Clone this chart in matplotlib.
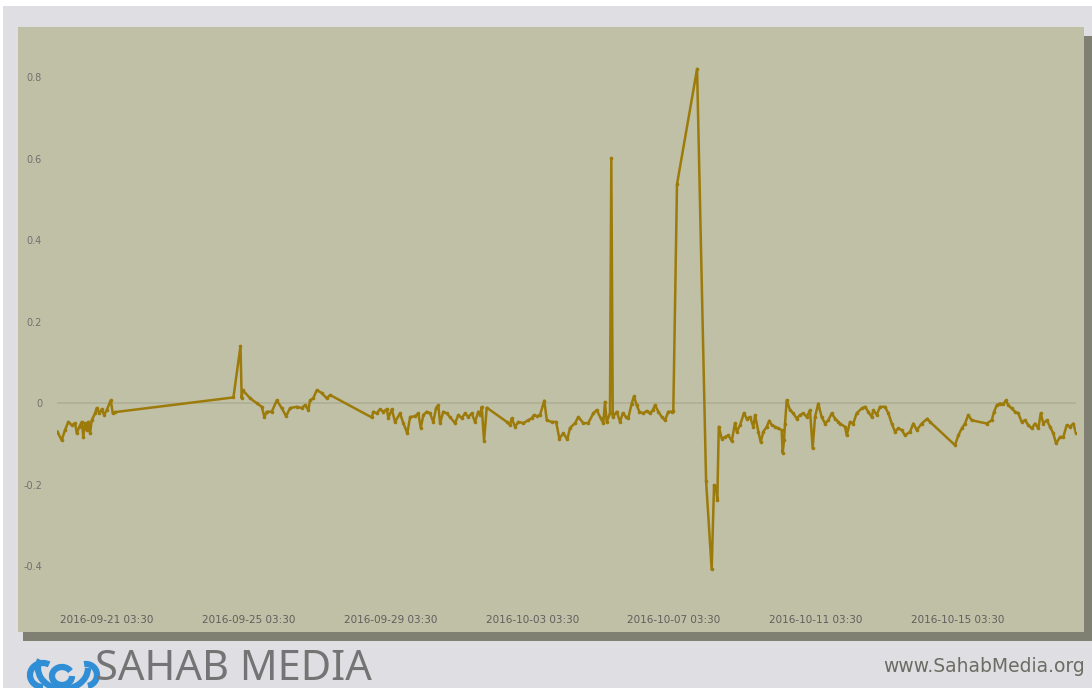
import matplotlib
matplotlib.use("Agg")
import matplotlib.pyplot as plt
import matplotlib.dates as mdates
from matplotlib.patches import Rectangle, Arc
import pandas as pd

# ---- data: hours relative to 2016-09-21 03:30, and values ----
base_time = "2016-09-21 03:30"
hours = [-33.7, -30.7, -28.5, -26.2, -23.9, -21.7, -20.5, -18.8, -17.1, -16.1,
         -14.9, -13.8, -12.7, -11.5, -10.4, -8.1, -7.0, -5.2, -3.6, -2.0,
         -0.2, 2.5, 3.9, 5.4, 85.6, 90.4, 91.2, 91.9, 96.9, 101.4,
         104.8, 106.6, 108.2, 111.6, 115.0, 118.3, 121.3, 124.0, 128.5, 131.9,
         134.1, 136.4, 137.5, 139.7, 142.1, 145.4, 148.8, 151.1, 179.3, 180.4,
         182.7, 184.9, 187.2, 189.5, 190.6, 192.9, 195.1, 198.5, 200.7, 203.4,
         205.3, 208.6, 210.9, 212.5, 214.3, 216.6, 218.8, 221.0, 222.9, 224.4,
         225.6, 227.8, 230.1, 232.3, 235.7, 238.0, 240.3, 242.5, 244.7, 247.0,
         249.3, 251.5, 252.7, 253.8, 255.4, 257.2, 270.8, 273.0, 274.1, 276.4,
         278.6, 282.0, 285.4, 287.7, 289.2, 291.1, 293.3, 296.2, 297.9, 301.2,
         304.2, 306.4, 309.1, 311.8, 313.6, 317.0, 319.3, 322.6, 326.0, 329.4,
         331.7, 334.4, 336.2, 337.3, 338.5, 340.7, 341.6, 342.6, 345.3, 347.5,
         349.3, 351.6, 353.1, 355.4, 357.0, 358.8, 360.6, 363.3, 365.6, 367.8,
         369.7, 371.2, 373.5, 375.8, 378.0, 380.2, 382.5, 383.6, 386.1, 399.7,
         405.8, 409.6, 411.2, 411.9, 412.5, 413.4, 414.4, 416.4, 418.6, 420.9,
         423.2, 425.4, 426.6, 428.8, 431.5, 433.3, 435.6, 437.8, 439.0, 441.2,
         442.8, 444.6, 446.9, 448.6, 450.3, 452.5, 454.7, 457.0, 457.7, 458.6,
         459.3, 460.4, 462.7, 464.9, 467.2, 469.4, 471.7, 474.0, 476.2, 478.0,
         479.6, 481.8, 484.1, 486.4, 488.6, 490.9, 493.2, 495.4, 496.5, 499.9,
         501.1, 503.3, 505.5, 507.8, 511.2, 513.5, 515.7, 518.0, 519.1, 521.4,
         523.6, 527.0, 529.3, 531.6, 533.8, 536.0, 538.3, 540.6, 544.0, 546.2,
         548.5, 551.9, 555.7, 557.5, 574.4, 576.7, 579.0, 581.2, 583.4, 585.7,
         595.9, 599.3, 600.9, 602.7, 604.9, 607.2, 609.0, 610.5, 612.8, 615.1,
         617.3, 619.6, 621.9, 624.1, 626.4, 628.6, 630.9, 632.5, 634.3, 636.6,
         638.8, 641.0, 642.9, 645.6, 647.8, 650.1, 652.3, 654.6, 656.4]
values = [-0.070, -0.091, -0.066, -0.046, -0.054, -0.049, -0.074, -0.058, -0.046, -0.083,
          -0.049, -0.066, -0.046, -0.074, -0.042, -0.025, -0.012, -0.025, -0.015, -0.029,
          -0.017, 0.007, -0.025, -0.022, 0.014, 0.140, 0.012, 0.032, 0.012, 0.000,
          -0.009, -0.034, -0.021, -0.021, 0.007, -0.012, -0.032, -0.012, -0.009, -0.012,
          -0.005, -0.017, 0.007, 0.012, 0.032, 0.025, 0.012, 0.020, -0.035, -0.021,
          -0.025, -0.015, -0.021, -0.015, -0.037, -0.015, -0.046, -0.025, -0.049, -0.074,
          -0.034, -0.032, -0.025, -0.061, -0.029, -0.021, -0.025, -0.046, -0.012, -0.005,
          -0.049, -0.021, -0.025, -0.034, -0.049, -0.029, -0.037, -0.025, -0.034, -0.025,
          -0.046, -0.021, -0.029, -0.009, -0.093, -0.011, -0.046, -0.054, -0.037, -0.058,
          -0.046, -0.049, -0.042, -0.037, -0.029, -0.032, -0.029, 0.006, -0.042, -0.046,
          -0.046, -0.087, -0.074, -0.089, -0.061, -0.049, -0.034, -0.049, -0.049, -0.025,
          -0.017, -0.037, -0.049, 0.003, -0.046, -0.025, 0.601, -0.034, -0.021, -0.046,
          -0.025, -0.034, -0.037, -0.001, 0.017, -0.005, -0.021, -0.025, -0.019, -0.025,
          -0.017, -0.005, -0.021, -0.034, -0.042, -0.021, -0.021, -0.019, 0.537, 0.820,
          -0.191, -0.408, -0.201, -0.209, -0.205, -0.238, -0.058, -0.087, -0.083, -0.079,
          -0.093, -0.049, -0.070, -0.054, -0.024, -0.038, -0.034, -0.058, -0.029, -0.070,
          -0.095, -0.070, -0.058, -0.043, -0.054, -0.058, -0.062, -0.066, -0.122, -0.091,
          -0.050, 0.007, -0.017, -0.025, -0.038, -0.029, -0.025, -0.034, -0.017, -0.111,
          -0.034, -0.001, -0.034, -0.050, -0.042, -0.025, -0.038, -0.046, -0.050, -0.058,
          -0.079, -0.046, -0.050, -0.025, -0.013, -0.009, -0.021, -0.034, -0.017, -0.029,
          -0.009, -0.009, -0.025, -0.050, -0.070, -0.062, -0.066, -0.079, -0.070, -0.050,
          -0.066, -0.050, -0.038, -0.046, -0.103, -0.079, -0.062, -0.050, -0.029, -0.042,
          -0.050, -0.042, -0.021, -0.005, -0.001, -0.002, 0.007, -0.005, -0.013, -0.021,
          -0.025, -0.046, -0.042, -0.054, -0.062, -0.050, -0.062, -0.025, -0.050, -0.042,
          -0.058, -0.074, -0.099, -0.083, -0.083, -0.054, -0.058, -0.050, -0.074]
y_ticks = [-0.4, -0.2, 0, 0.2, 0.4, 0.6, 0.8]
y_tick_labels = ["-0.4", "-0.2", "0", "0.2", "0.4", "0.6", "0.8"]
x_tick_labels = ["2016-09-21 03:30", "2016-09-25 03:30", "2016-09-29 03:30",
                 "2016-10-03 03:30", "2016-10-07 03:30", "2016-10-11 03:30",
                 "2016-10-15 03:30"]
brand_name = "SAHAB MEDIA"
brand_url = "www.SahabMedia.org"

times = pd.Timestamp(base_time) + pd.to_timedelta(hours, unit="h")
x_ticks = pd.to_datetime(x_tick_labels)

W, H = 1092, 688
fig = plt.figure(figsize=(W / 100, H / 100), dpi=100)
fig.patch.set_facecolor("white")

# decoration layer in pixel coordinates
deco = fig.add_axes([0, 0, 1, 1])
deco.set_xlim(0, W)
deco.set_ylim(H, 0)
deco.axis("off")
deco.add_patch(Rectangle((3, 6), W, H, facecolor="#dfdee2", edgecolor="none"))
deco.add_patch(Rectangle((23, 36), W, 605, facecolor="#7f7f72", edgecolor="none"))
deco.add_patch(Rectangle((18, 27), 1066, 605, facecolor="#c0c0a6", edgecolor="none"))

# cloud logo (approximation)
blue = "#2f8ed6"
deco.add_patch(Arc((63, 668), 50, 42, theta1=0, theta2=200, color=blue, lw=4.5))
deco.add_patch(Arc((43, 675), 26, 24, theta1=90, theta2=300, color=blue, lw=4.5))
deco.add_patch(Arc((86, 675), 22, 22, theta1=-100, theta2=80, color=blue, lw=4.5))
deco.add_patch(Arc((62, 676), 20, 18, theta1=0, theta2=330, color=blue, lw=4.5))
deco.text(95, 669, brand_name, fontsize=30, color="#747474", family="Noto Sans",
          ha="left", va="center")
deco.text(1085, 666, brand_url, fontsize=13.5, color="#6c6c64", family="DejaVu Sans",
          ha="right", va="center")

# chart axes
ax = fig.add_axes([57.3 / W, 1 - 600 / H, (1076 - 57.3) / W, 560 / H])
ax.set_facecolor("none")
ax.plot(times, values, color="#9d7b0b", lw=1.8, marker="o", markersize=2.6,
        markeredgewidth=0, solid_joinstyle="round", zorder=3)
ax.axhline(0, color="#aeae96", lw=1.2, zorder=1)
ax.set_xlim(times[0], times[-1])
ax.set_ylim(-0.483, 0.891)
ax.set_yticks(y_ticks)
ax.set_yticklabels(y_tick_labels)
ax.set_xticks(x_ticks)
ax.set_xticklabels(x_tick_labels)
ax.tick_params(axis="y", length=0, pad=11, labelsize=7, labelcolor="#707070")
ax.tick_params(axis="x", length=0, pad=11, labelsize=7.5, labelcolor="#5e5e5e")
for s in ax.spines.values():
    s.set_visible(False)

fig.savefig("out.png", dpi=100, facecolor=fig.get_facecolor())
